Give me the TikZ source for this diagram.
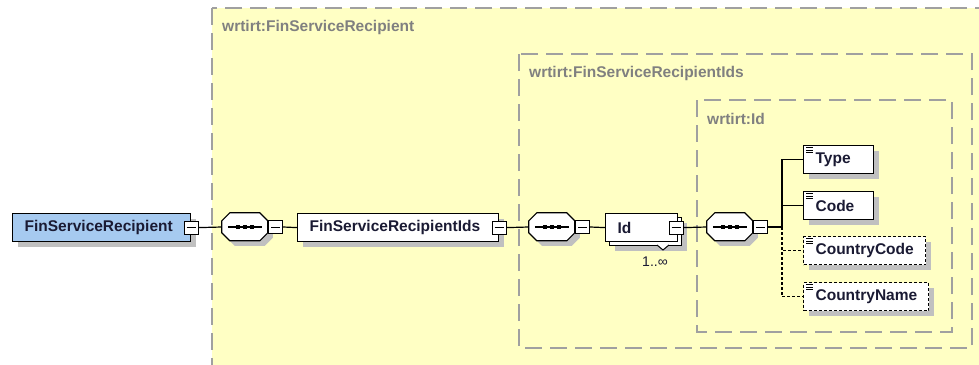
\documentclass[tikz,border=0pt]{standalone}
\usepackage{fontspec}
\setmainfont{Liberation Sans}
\usetikzlibrary{shadows,calc}
\definecolor{bgyellow}{HTML}{FFFFC4}
\definecolor{rootblue}{HTML}{A6CAF0}
\definecolor{shadowc}{HTML}{C0C0C0}
\definecolor{framegray}{HTML}{A0A0A0}
\definecolor{labelgray}{HTML}{808080}
\definecolor{txt}{HTML}{1A1A33}
\newcommand\seqdraw[1]{%
  \fill[shadowc] ([shift={(13,5)}]#1.north west) -- ++(30,0) -- ++(8,8) -- ++(0,12) -- ++(-8,8) -- ++(-30,0) -- ++(-8,-8) -- ++(0,-12) -- cycle;
  \draw[fill=white,line width=1.2pt] ([shift={(8,0)}]#1.north west) -- ++(30,0) -- ++(8,8) -- ++(0,12) -- ++(-8,8) -- ++(-30,0) -- ++(-8,-8) -- ++(0,-12) -- cycle;
  \draw[line width=1.2pt] ([xshift=6]#1.west) -- ([xshift=-6]#1.east);
  \foreach \d in {-7,0,7} \fill ([xshift=\d]#1.center) +(-2.2,-2.2) rectangle +(2.2,2.2);
}
\newcommand\minusdraw[1]{%
  \draw[line width=1pt] ([xshift=3]#1.west) -- ([xshift=-3]#1.east);
}
\begin{document}
\begin{tikzpicture}[x=1pt,y=-1pt,
  container/.style={draw=framegray, fill=bgyellow, line width=1.5pt, dash pattern=on 17pt off 8pt},
  clabel/.style={anchor=west, inner sep=0, text=labelgray, font=\bfseries\fontsize{15.5}{18}\selectfont},
  elembase/.style={draw, fill=white, line width=1.2pt, minimum height=28, inner xsep=12, inner ysep=0, anchor=north west, align=left, text=txt, font=\bfseries\fontsize{15.5}{18}\selectfont},
  shadowed/.style={elembase, drop shadow={shadow xshift=5pt, shadow yshift=-5pt, fill=shadowc, opacity=1}},
  optional/.style={dash pattern=on 3pt off 2pt},
  minusbox/.style={draw, fill=white, line width=1pt, minimum width=14, minimum height=13, inner sep=0},
  seqnode/.style={minimum width=46, minimum height=28, inner sep=0},
  conn/.style={line width=1.2pt},
]
\useasboundingbox (0,0) rectangle (979,364);
\clip (0,0) rectangle (979,364);
\fill[white] (0,0) rectangle (979,364);

% containers
\draw[container] (212,8) rectangle (1010,400);
\node[clabel] (l1) at (222,27) {wrtirt:FinServiceRecipient};
\draw[container] (519,54) rectangle (972,348);
\node[clabel] (l2) at (529,73) {wrtirt:FinServiceRecipientIds};
\draw[container] (697,100) rectangle (952,332);
\node[clabel] (l3) at (707,119) {wrtirt:Id};

% root
\node[shadowed, fill=rootblue, text width=154] (fsr) at (12,213) {FinServiceRecipient};
\node[minusbox] (fsrm) at (fsr.east) {};
\minusdraw{fsrm}

% sequence 1
\node[seqnode] (s1) at (245,227) {};
\seqdraw{s1}
\node[minusbox, anchor=west] (s1m) at (s1.east) {};
\minusdraw{s1m}

% FinServiceRecipientIds
\node[shadowed, text width=177] (ids) at (297,213) {FinServiceRecipientIds};
\node[minusbox] (idsm) at (ids.east) {};
\minusdraw{idsm}

% sequence 2
\node[seqnode] (s2) at (552,227) {};
\seqdraw{s2}
\node[minusbox, anchor=west] (s2m) at (s2.east) {};
\minusdraw{s2m}

% Id (repeated)
\node[shadowed, text width=48] (idback) at (609,217) {};
\node[elembase, text width=48] (id) at (605,213) {Id};
\node[minusbox] (idm) at ([xshift=-2]id.east) {};
\minusdraw{idm}
\draw[fill=white, line width=1pt] (657,245) -- (663,250) -- (669,245);
\node[text=txt, inner sep=0, font=\fontsize{14}{16}\selectfont] (mult) at (655,262) {1..∞};

% sequence 3
\node[seqnode] (s3) at (730,227) {};
\seqdraw{s3}
\node[minusbox, anchor=west] (s3m) at (s3.east) {};
\minusdraw{s3m}
\coordinate (tr) at (782,227);

% children
\node[shadowed, text width=46] (type) at (803,145) {Type};
\node[shadowed, text width=46] (code) at (803,191) {Code};
\node[shadowed, optional, text width=98] (ccode) at (803,236) {CountryCode};
\node[shadowed, optional, text width=101] (cname) at (803,282) {CountryName};
\foreach \n in {type,code,ccode,cname}
  \foreach \k in {2.5,5,7.5}
    \draw[line width=0.9pt] ([shift={(3,\k)}]\n.north west) -- ++(7,0);

% connectors
\draw[conn] (fsrm.east) -- (s1.west);
\draw[conn] (s1m.east) -- (ids.west);
\draw[conn] (idsm.east) -- (s2.west);
\draw[conn] (s2m.east) -- (id.west);
\draw[conn] (idm.east) -- (s3.west);
\draw[conn] (s3m.east) -- (tr);
\draw[conn, optional] (tr) |- (ccode.west);
\draw[conn, optional] (tr) |- (cname.west);
\draw[conn] (tr) |- (type.west);
\draw[conn] (tr) |- (code.west);
\end{tikzpicture}
\end{document}
